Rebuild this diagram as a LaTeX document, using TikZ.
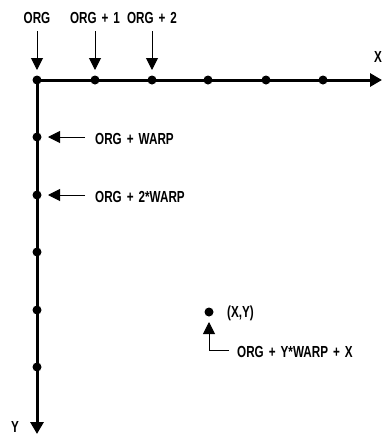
\documentclass[tikz,border=0pt]{standalone}
\usepackage{fontspec}
\setmainfont{Liberation Sans Bold}[FakeStretch=0.73,WordSpace=1.55]
\usetikzlibrary{arrows.meta}
\begin{document}
\begin{tikzpicture}[x=1pt,y=-1pt,
  lbl/.style={inner sep=0pt,font=\fontsize{16}{18}\selectfont,anchor=center},
  lblw/.style={lbl,anchor=west},
  axis/.style={line width=3pt,-{Triangle[length=12pt,width=13pt]}},
  ptr/.style={line width=1pt,-{Triangle[length=12pt,width=12pt]}},
  dotnode/.style={circle,fill=black,inner sep=0pt,minimum size=9pt}]
\useasboundingbox (0,0) rectangle (382,434);
% axes
\coordinate (o) at (37,80);
\coordinate (xend) at (382,80);
\coordinate (yend) at (37,434);
\draw[axis] (o) -- (xend);
\draw[axis] (o) -- (yend);
% dots along x
\foreach \i/\x in {0/37,1/95,2/152,3/208,4/266,5/323}
  \node[dotnode] (dx\i) at (\x,80) {};
% dots along y
\foreach \i/\y in {1/137,2/195,3/252,4/310,5/367}
  \node[dotnode] (dy\i) at (37,\y) {};
% axis labels
\node[lbl] (xl) at (378,57) {X};
\node[lbl] (yl) at (15,426.5) {Y};
% top labels and arrows
\node[lbl] (l0) at (37,18) {ORG};
\node[lbl] (l1) at (95,18) {ORG + 1};
\node[lbl] (l2) at (152,18) {ORG + 2};
\coordinate (t0) at (37,70);
\coordinate (t1) at (95,70);
\coordinate (t2) at (152,70);
\coordinate (s0) at (37,31);
\coordinate (s1) at (95,31);
\coordinate (s2) at (152,31);
\draw[ptr] (s0) -- (t0);
\draw[ptr] (s1) -- (t1);
\draw[ptr] (s2) -- (t2);
% side labels
\node[lblw] (w1) at (95,139) {ORG + WARP};
\node[lblw] (w2) at (95,197) {ORG + 2*WARP};
\coordinate (tw1) at (48,137);
\coordinate (tw2) at (48,195);
\coordinate (sw1) at (85,137);
\coordinate (sw2) at (85,195);
\draw[ptr] (sw1) -- (tw1);
\draw[ptr] (sw2) -- (tw2);
% point (X,Y)
\node[dotnode] (p) at (209,312) {};
\node[lblw] (pl) at (227,313) {(X,Y)};
\node[lblw] (fl) at (237,352) {ORG + Y*WARP + X};
\coordinate (pt) at (209,322);
\coordinate (pc) at (209,350);
\coordinate (fs) at (229,350);
\draw[ptr] (fs) -- (pc) -- (pt);
\end{tikzpicture}
\end{document}
